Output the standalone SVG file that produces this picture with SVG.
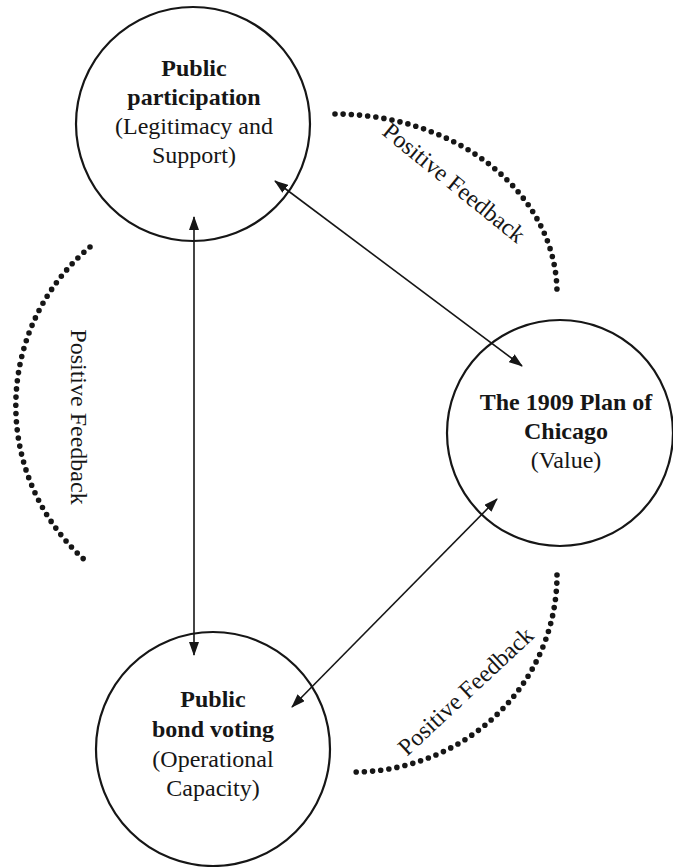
<svg xmlns="http://www.w3.org/2000/svg" width="673" height="867" viewBox="0 0 673 867">
  <style>
    .node { fill: #ffffff; stroke: #161616; stroke-width: 2.2; }
    .label { font-family: "Liberation Serif", "Times New Roman", serif; font-size: 24px; fill: #161616; text-anchor: middle; }
    .bold { font-weight: bold; }
    .link { stroke: #161616; stroke-width: 1.6; fill: none; marker-start: url(#head); marker-end: url(#head); }
    .loop { stroke: #161616; stroke-width: 5.6; fill: none; stroke-linecap: round; stroke-dasharray: 0 8.2; }
    .loop-label { font-family: "Liberation Serif", "Times New Roman", serif; font-size: 24px; fill: #161616; text-anchor: middle; }
  </style>
  <defs>
    <marker id="head" viewBox="0 0 14 10" refX="13" refY="5" markerWidth="14" markerHeight="10" markerUnits="userSpaceOnUse" orient="auto-start-reverse">
      <path d="M0,0 L14,5 L0,10 Z" fill="#161616"/>
    </marker>
  </defs>
  <rect width="673" height="867" fill="#ffffff"/>

  <g id="node-participation">
    <circle class="node" cx="193" cy="124" r="117"/>
    <text class="label bold" x="194" y="76">Public</text>
    <text class="label bold" x="194" y="105">participation</text>
    <text class="label" x="194" y="134">(Legitimacy and</text>
    <text class="label" x="194" y="163">Support)</text>
  </g>

  <g id="node-plan">
    <circle class="node" cx="560" cy="433" r="113"/>
    <text class="label bold" x="566" y="410">The 1909 Plan of</text>
    <text class="label bold" x="566" y="439">Chicago</text>
    <text class="label" x="566" y="468">(Value)</text>
  </g>

  <g id="node-bond">
    <circle class="node" cx="213" cy="749" r="117"/>
    <text class="label bold" x="213" y="707">Public</text>
    <text class="label bold" x="213" y="737">bond voting</text>
    <text class="label" x="213" y="767">(Operational</text>
    <text class="label" x="213" y="796">Capacity)</text>
  </g>

  <g id="connectors">
    <line class="link" x1="194" y1="217" x2="194" y2="655"/>
    <line class="link" x1="275" y1="181" x2="522" y2="366"/>
    <line class="link" x1="497" y1="499" x2="292" y2="707"/>
  </g>

  <g id="feedback-loops">
    <path class="loop" d="M335,114 A222,179 0 0 1 557,293"/>
    <path class="loop" d="M90,247 A207,207 0 0 0 87,562"/>
    <path class="loop" d="M557,575 A204,197 0 0 1 353,772"/>
    <text class="loop-label" transform="translate(449,189) rotate(39)">Positive Feedback</text>
    <text class="loop-label" transform="translate(71,417) rotate(90)">Positive Feedback</text>
    <text class="loop-label" transform="translate(471,697) rotate(-43)">Positive Feedback</text>
  </g>
</svg>
